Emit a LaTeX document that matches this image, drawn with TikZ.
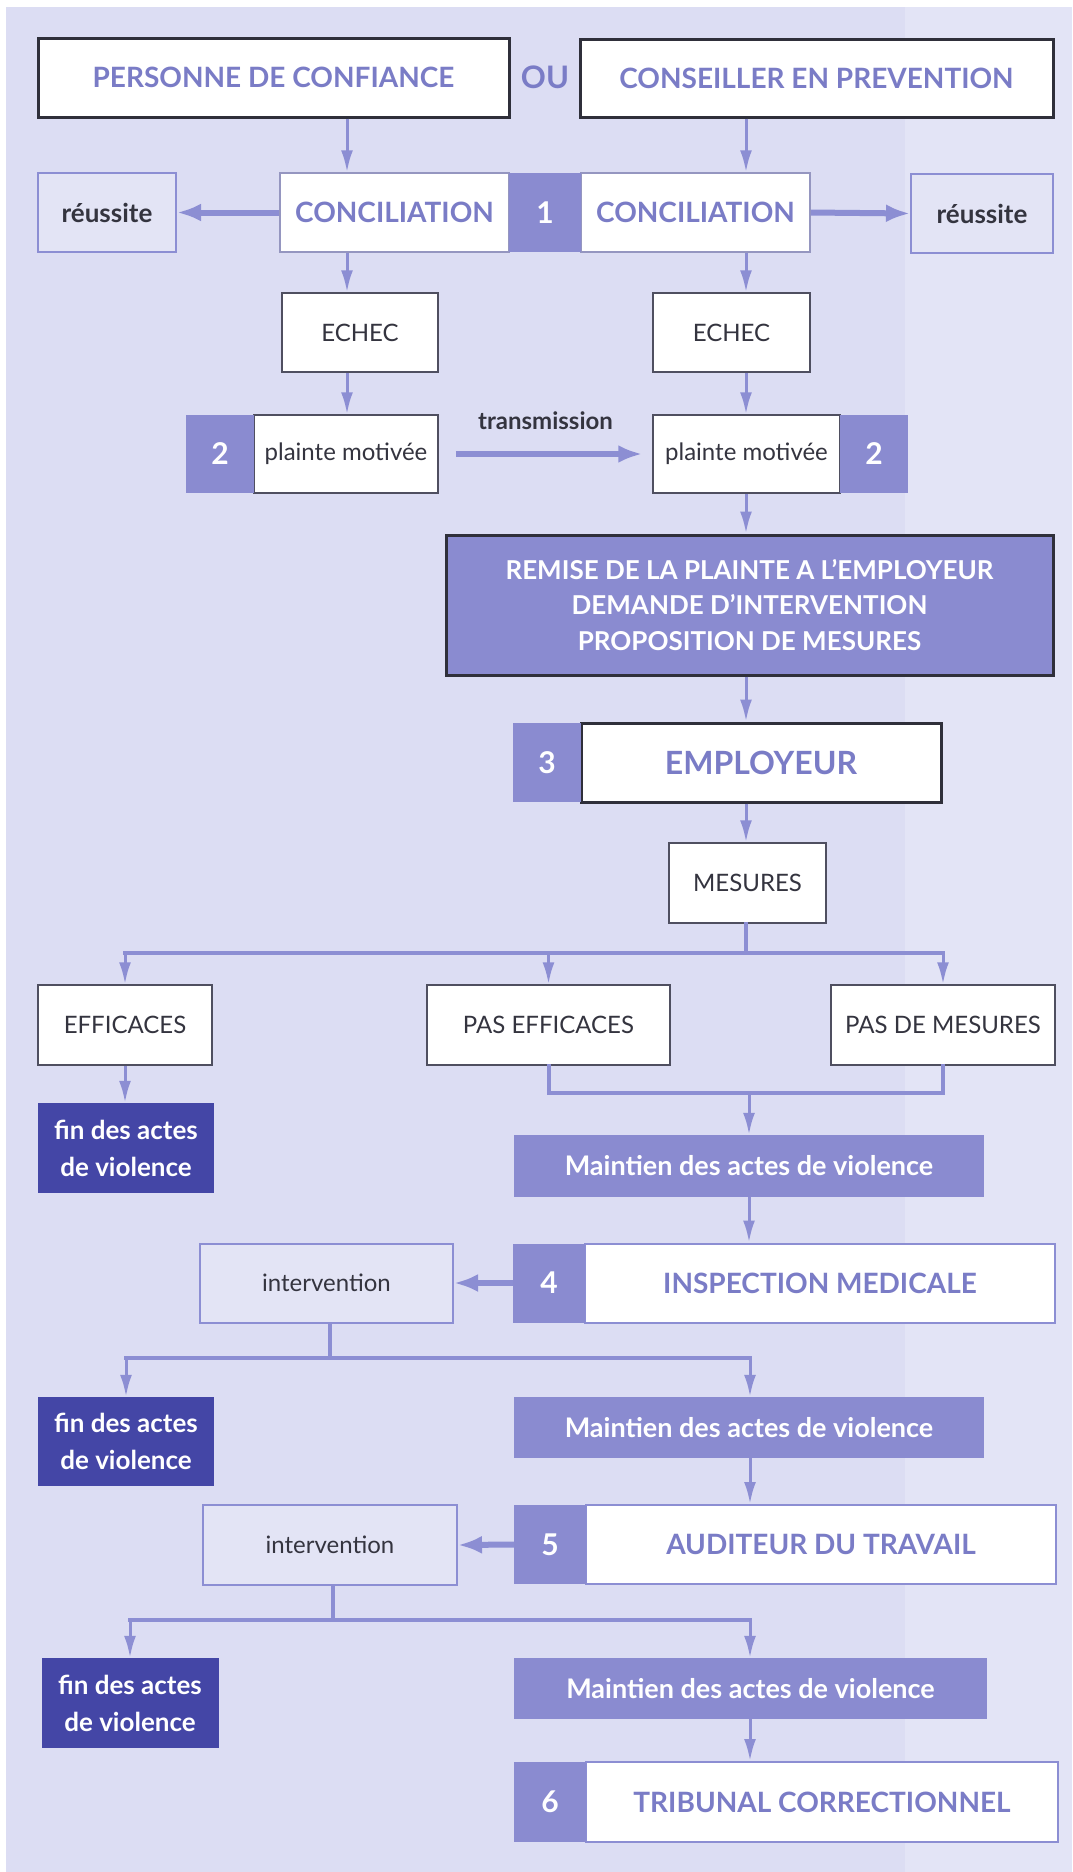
\documentclass[tikz,border=0pt]{standalone}
\usepackage{fontspec}
\setmainfont{Lato}
\usepackage{tikz}
\usetikzlibrary{arrows.meta}

\definecolor{bgC}{HTML}{DCDDF3}
\definecolor{bgL}{HTML}{E3E4F6}
\definecolor{purp}{HTML}{8A8BD0}
\definecolor{navy}{HTML}{4446A6}
\definecolor{lineC}{HTML}{8C8ED3}
\definecolor{txtP}{HTML}{7A7CC6}
\definecolor{txtD}{HTML}{34343F}
\definecolor{edgeK}{HTML}{2F2F3A}
\definecolor{edgeD}{HTML}{4F4F60}
\definecolor{edgeG}{HTML}{9596C0}

\tikzset{
  hbox/.style={rectangle, draw=edgeK, line width=3pt, fill=white, inner sep=0pt,
    text=txtP, font=\bfseries\fontsize{28}{34}\selectfont},
  cbox/.style={rectangle, draw=edgeG, line width=1.5pt, fill=white, inner sep=0pt,
    text=txtP, font=\bfseries\fontsize{28}{34}\selectfont},
  sbox/.style={rectangle, draw=lineC, line width=2pt, fill=white, inner sep=0pt,
    text=txtP, font=\bfseries\fontsize{28}{34}\selectfont},
  wbox/.style={rectangle, draw=edgeD, line width=1.5pt, fill=white, inner sep=0pt,
    text=txtD, font=\fontsize{24}{30}\selectfont},
  lbox/.style={rectangle, draw=lineC, line width=2pt, fill=bgC!80!white, inner sep=0pt,
    text=txtD, font=\fontsize{24}{30}\selectfont},
  okbox/.style={lbox, font=\bfseries\fontsize{26}{32}\selectfont},
  numbox/.style={rectangle, fill=purp, inner sep=0pt, text=white,
    font=\bfseries\fontsize{30}{36}\selectfont},
  rbox/.style={rectangle, draw=edgeK, line width=3pt, fill=purp, inner sep=0pt, align=center,
    text=white, font=\bfseries\fontsize{26}{35.5}\selectfont},
  mbox/.style={rectangle, fill=purp, inner sep=0pt, text=white,
    font=\bfseries\fontsize{27}{32}\selectfont},
  finbox/.style={rectangle, fill=navy, inner sep=0pt, align=center, text=white,
    font=\bfseries\fontsize{26}{37}\selectfont},
  ou/.style={inner sep=0pt, text=txtP, font=\bfseries\fontsize{31}{36}\selectfont},
  lbl/.style={inner sep=0pt, text=txtD, font=\bfseries\fontsize{24}{30}\selectfont},
  conn/.style={draw=lineC, line width=3pt, -{Latex[length=22pt,width=12pt]}},
  bigarrow/.style={draw=lineC, line width=6pt, -{Latex[length=24pt,width=18pt]}},
  branch/.style={draw=lineC, line width=4pt, line cap=rect}
}

\begin{document}
\begin{tikzpicture}[x=1pt,y=-1pt]
\useasboundingbox (0,0) rectangle (1072,1872);

% fond
\fill[white] (0,0) rectangle (1072,1872);
\fill[bgC] (6,7) rectangle (1072,1872);
\fill[bgL] (905,7) rectangle (1072,1872);

\coordinate (cL) at (347,0);
\coordinate (cR) at (746,0);

% haut
\draw node[hbox, minimum width=471pt, minimum height=79pt] (pc) at (273.5,77.5) {PERSONNE DE CONFIANCE};
\draw node[ou] (ou) at (545,77) {OU};
\draw node[hbox, minimum width=473pt, minimum height=78pt] (cp) at (816.5,78) {CONSEILLER EN PREVENTION};

% 1 conciliation
\draw node[okbox, minimum width=138pt, minimum height=79pt] (rl) at (107,212.5) {réussite};
\draw node[cbox, minimum width=229pt, minimum height=79pt] (cl) at (394.5,212.5) {CONCILIATION};
\draw node[cbox, minimum width=229pt, minimum height=79pt] (cr) at (695.5,212.5) {CONCILIATION};
\draw node[numbox, minimum width=72pt, minimum height=79pt] (n1) at (545,212.5) {1};
\draw node[okbox, minimum width=142pt, minimum height=79pt] (rr) at (982,213.5) {réussite};

\draw node[wbox, minimum width=156pt, minimum height=79pt] (el) at (360,332.5) {ECHEC};
\draw node[wbox, minimum width=157pt, minimum height=79pt] (er) at (731.5,332.5) {ECHEC};

% 2 plainte
\draw node[wbox, minimum width=184pt, minimum height=78pt] (pl) at (346,454) {plainte motivée};
\draw node[numbox, minimum width=68pt, minimum height=78pt] (n2l) at (220,454) {2};
\draw node[wbox, minimum width=187pt, minimum height=78pt] (pr) at (746.5,454) {plainte motivée};
\draw node[numbox, minimum width=68pt, minimum height=78pt] (n2r) at (874,454) {2};

\draw node[rbox, minimum width=607pt, minimum height=140pt] (rem) at (749.5,605)
  {REMISE DE LA PLAINTE A L’EMPLOYEUR\\DEMANDE D’INTERVENTION\\PROPOSITION DE MESURES};

% 3 employeur
\draw node[hbox, minimum width=360pt, minimum height=79pt, font=\bfseries\fontsize{32}{38}\selectfont] (emp) at (761,762.5) {EMPLOYEUR};
\draw node[numbox, minimum width=68pt, minimum height=79pt] (n3) at (547,762.5) {3};
\draw node[wbox, minimum width=157pt, minimum height=80pt] (mes) at (747.5,883) {MESURES};

\draw node[wbox, minimum width=174pt, minimum height=80pt] (eff) at (125,1025) {EFFICACES};
\draw node[wbox, minimum width=243pt, minimum height=80pt] (pef) at (548.5,1025) {PAS EFFICACES};
\draw node[wbox, minimum width=224pt, minimum height=80pt] (pdm) at (943,1025) {PAS DE MESURES};

\draw node[finbox, minimum width=176pt, minimum height=90pt] (fin1) at (126,1148) {fin des actes\\de violence};
\draw node[mbox, minimum width=470pt, minimum height=62pt] (m1) at (749,1166) {Maintien des actes de violence};

% 4 inspection
\draw node[sbox, minimum width=470pt, minimum height=79pt] (insp) at (820,1283) {INSPECTION MEDICALE};
\draw node[numbox, minimum width=72pt, minimum height=79pt] (n4) at (549,1283) {4};
\draw node[lbox, minimum width=253pt, minimum height=79pt] (int1) at (326.5,1283) {intervention};

\draw node[finbox, minimum width=176pt, minimum height=89pt] (fin2) at (126,1441.5) {fin des actes\\de violence};
\draw node[mbox, minimum width=470pt, minimum height=61pt] (m2) at (749,1427.5) {Maintien des actes de violence};

% 5 auditeur
\draw node[sbox, minimum width=470pt, minimum height=79pt] (aud) at (821,1544.5) {AUDITEUR DU TRAVAIL};
\draw node[numbox, minimum width=72pt, minimum height=79pt] (n5) at (550,1544.5) {5};
\draw node[lbox, minimum width=254pt, minimum height=80pt] (int2) at (330,1545) {intervention};

\draw node[finbox, minimum width=177pt, minimum height=90pt] (fin3) at (130,1703) {fin des actes\\de violence};
\draw node[mbox, minimum width=473pt, minimum height=61pt] (m3) at (750.5,1688.5) {Maintien des actes de violence};

% 6 tribunal
\draw node[sbox, minimum width=472pt, minimum height=80pt] (trib) at (822,1802) {TRIBUNAL CORRECTIONNEL};
\draw node[numbox, minimum width=72pt, minimum height=80pt] (n6) at (550,1802) {6};

% fleches
\draw[conn] (pc.south -| cL) -- (cl.north -| cL);
\draw[conn] (cp.south -| cR) -- (cr.north -| cR);
\draw[bigarrow] (cl.west) -- (rl.east);
\draw[bigarrow] (cr.east) -- (rr.west);
\draw[conn] (cl.south -| cL) -- (el.north -| cL);
\draw[conn] (cr.south -| cR) -- (er.north -| cR);
\draw[conn] (el.south -| cL) -- (pl.north -| cL);
\draw[conn] (er.south -| cR) -- (pr.north -| cR);
\draw[bigarrow, shorten <=17pt, shorten >=10pt] (pl.east) -- node[lbl, above=21pt] (trl) {transmission} (pr.west);
\draw[conn] (pr.south -| cR) -- (rem.north -| cR);
\draw[conn] (rem.south -| cR) -- (emp.north -| cR);
\draw[conn] (emp.south -| cR) -- (mes.north -| cR);

\coordinate (j1) at (746,953);
\draw[branch] (mes.south -| j1) -- (j1);
\draw[branch] (eff.north |- j1) -- (pdm.north |- j1);
\draw[conn] (eff.north |- j1) -- (eff.north);
\draw[conn] (pef.north |- j1) -- (pef.north);
\draw[conn] (pdm.north |- j1) -- (pdm.north);
\draw[conn] (eff.south) -- (fin1.north -| eff.south);

\coordinate (j2) at (749,1093);
\draw[branch] (pef.south) -- (pef.south |- j2) -- (pdm.south |- j2) -- (pdm.south);
\draw[conn] (j2) -- (m1.north -| j2);
\draw[conn] (m1.south -| j2) -- (insp.north -| j2);
\draw[bigarrow] (n4.west) -- (int1.east);

\coordinate (j3) at (330,1358);
\coordinate (j3r) at (750,1358);
\draw[branch] (int1.south -| j3) -- (j3);
\draw[branch] (fin2.north |- j3) -- (j3r);
\draw[conn] (fin2.north |- j3) -- (fin2.north);
\draw[conn] (j3r) -- (m2.north -| j3r);
\draw[conn] (m2.south -| j3r) -- (aud.north -| j3r);
\draw[bigarrow] (n5.west) -- (int2.east);

\coordinate (j4) at (333,1620);
\coordinate (j4r) at (750,1620);
\draw[branch] (int2.south -| j4) -- (j4);
\draw[branch] (fin3.north |- j4) -- (j4r);
\draw[conn] (fin3.north |- j4) -- (fin3.north);
\draw[conn] (j4r) -- (m3.north -| j4r);
\draw[conn] (m3.south -| j4r) -- (trib.north -| j4r);

\end{tikzpicture}
\end{document}
